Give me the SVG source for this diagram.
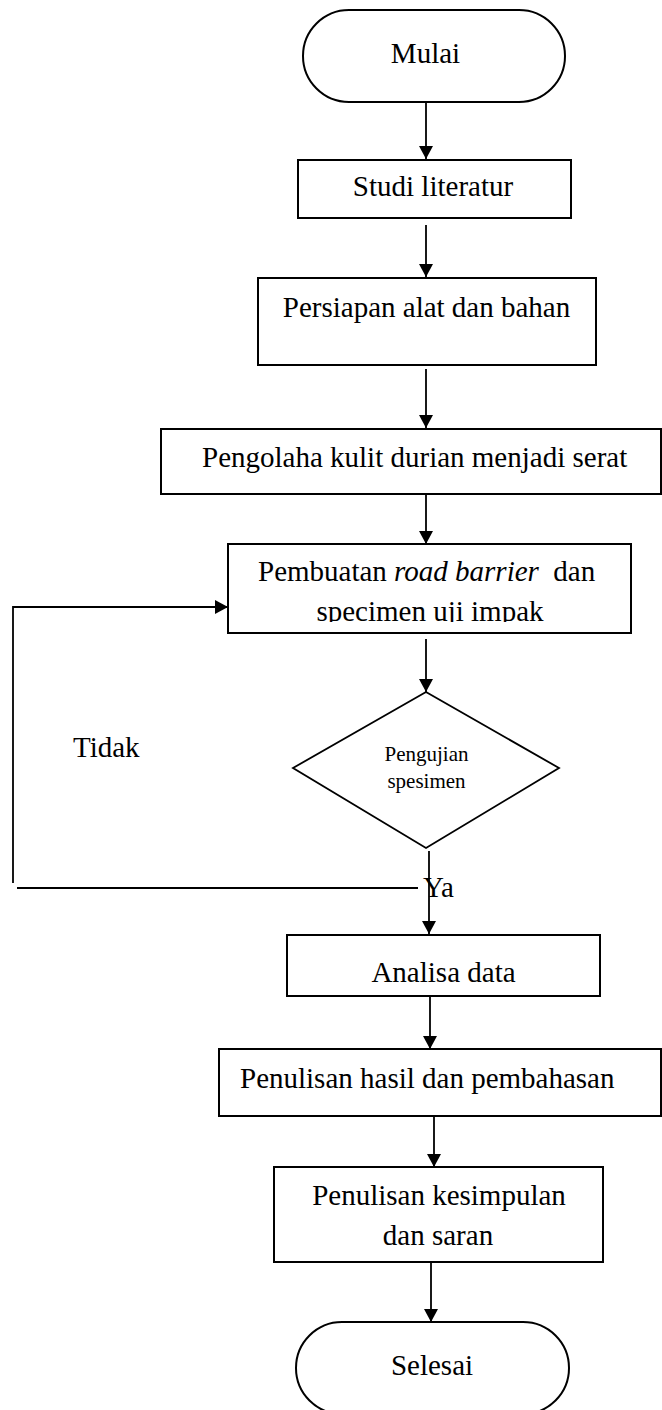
<svg xmlns="http://www.w3.org/2000/svg" width="662" height="1410" viewBox="0 0 662 1410">
<style>
.box{fill:#fff;stroke:#000;stroke-width:2}
.ln{fill:none;stroke:#000;stroke-width:1.8}
.t{font-family:"Liberation Serif","Times New Roman",serif;font-size:29px;fill:#000}
.s{font-family:"Liberation Serif","Times New Roman",serif;font-size:21px;fill:#000}
.m{text-anchor:middle}
</style>
<defs>
<marker id="ah" markerUnits="userSpaceOnUse" markerWidth="14" markerHeight="14" refX="13" refY="7" orient="auto">
<path d="M0,0 L13,7 L0,14 z" fill="#000"/>
</marker>
<clipPath id="clipPb"><rect x="228" y="544" width="403" height="78"/></clipPath>
</defs>
<rect width="662" height="1410" fill="#fff"/>
<g id="connectors">
<line class="ln" x1="426" y1="102" x2="426" y2="159" marker-end="url(#ah)"/>
<line class="ln" x1="426" y1="225" x2="426" y2="277" marker-end="url(#ah)"/>
<line class="ln" x1="426" y1="369" x2="426" y2="428" marker-end="url(#ah)"/>
<line class="ln" x1="426" y1="494" x2="426" y2="544" marker-end="url(#ah)"/>
<line class="ln" x1="426" y1="639" x2="426" y2="692" marker-end="url(#ah)"/>
<line class="ln" x1="429" y1="851" x2="429" y2="934" marker-end="url(#ah)"/>
<line class="ln" x1="430" y1="996" x2="430" y2="1049" marker-end="url(#ah)"/>
<line class="ln" x1="434" y1="1116" x2="434" y2="1167" marker-end="url(#ah)"/>
<line class="ln" x1="431" y1="1262" x2="431" y2="1322" marker-end="url(#ah)"/>
<line class="ln" x1="418" y1="888" x2="17" y2="888"/>
<path class="ln" d="M13,883 V607 H228" marker-end="url(#ah)"/>
</g>
<g id="mulai">
<rect class="box" x="303" y="10" width="262" height="92" rx="46" ry="46"/>
<text class="t m" x="425.5" y="63">Mulai</text>
</g>
<g id="studi">
<rect class="box" x="298" y="160" width="273" height="58"/>
<text class="t m" x="433" y="196">Studi literatur</text>
</g>
<g id="persiapan">
<rect class="box" x="258" y="278" width="338" height="87"/>
<text class="t m" x="426.5" y="317">Persiapan alat dan bahan</text>
</g>
<g id="pengolaha">
<rect class="box" x="161" y="429" width="500" height="65"/>
<text class="t" x="202" y="467">Pengolaha kulit durian menjadi serat</text>
</g>
<g id="pembuatan">
<rect class="box" x="228" y="544" width="403" height="89"/>
<g clip-path="url(#clipPb)">
<text class="t" x="258" y="581" style="white-space:pre">Pembuatan <tspan font-style="italic">road barrier</tspan>  dan</text>
<text class="t m" x="430" y="621">specimen uji impak</text>
</g>
</g>
<g id="pengujian">
<polygon points="426,692 559,768 426,848 293,768" fill="#fff" stroke="#000" stroke-width="1.8"/>
<text class="s m" x="426.5" y="761">Pengujian</text>
<text class="s m" x="426.5" y="788">spesimen</text>
</g>
<g id="label-tidak">
<text class="t" x="73" y="757">Tidak</text>
</g>
<g id="label-ya">
<text class="t" x="423" y="897">Ya</text>
</g>
<g id="analisa">
<rect class="box" x="287" y="935" width="313" height="61"/>
<text class="t m" x="443.5" y="982">Analisa data</text>
</g>
<g id="hasil">
<rect class="box" x="219" y="1049" width="442" height="67"/>
<text class="t" x="240" y="1088">Penulisan hasil dan pembahasan</text>
</g>
<g id="kesimpulan">
<rect class="box" x="274" y="1167" width="329" height="95"/>
<text class="t m" x="439" y="1205">Penulisan kesimpulan</text>
<text class="t m" x="438" y="1245">dan saran</text>
</g>
<g id="selesai">
<rect class="box" x="296" y="1322" width="273" height="92" rx="46" ry="46"/>
<text class="t m" x="432" y="1375">Selesai</text>
</g>
</svg>
